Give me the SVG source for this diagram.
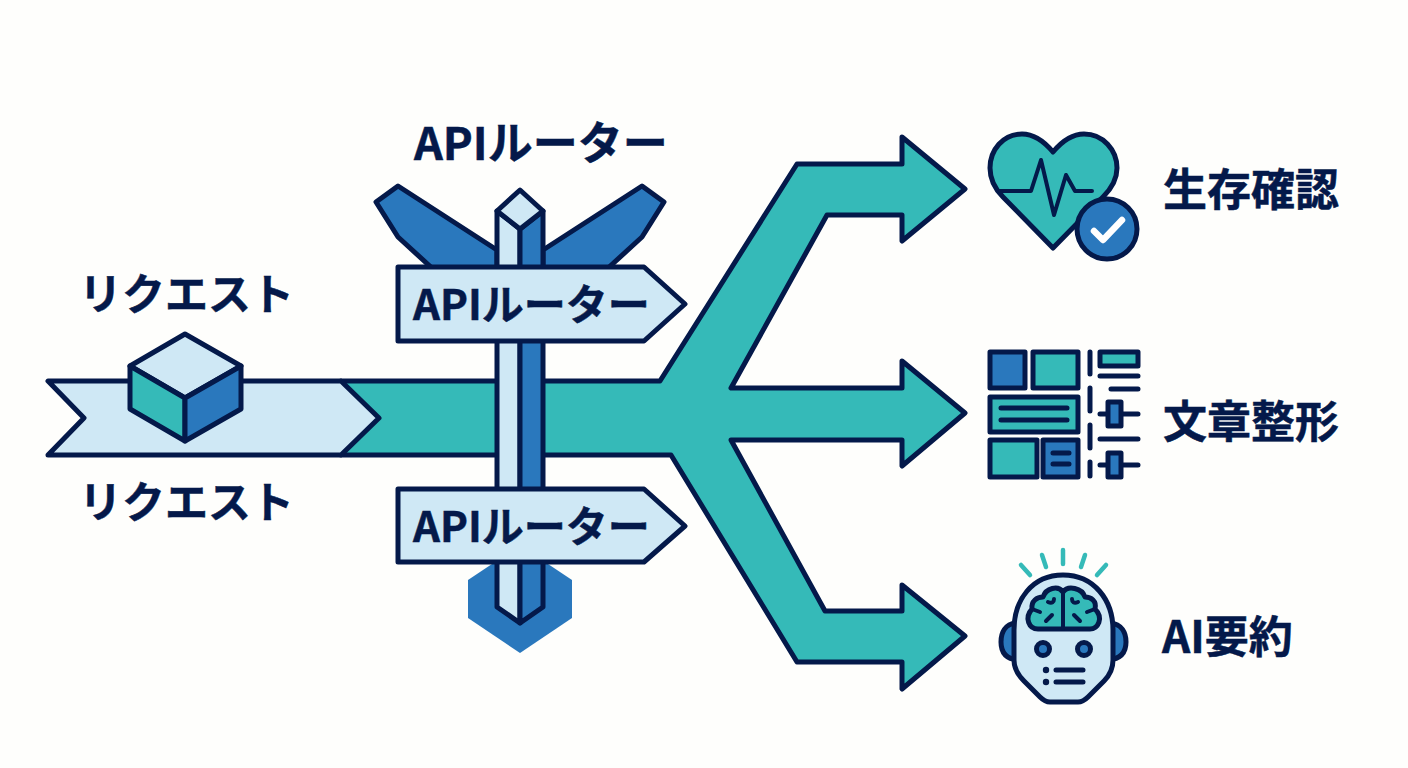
<svg xmlns="http://www.w3.org/2000/svg" width="1408" height="768" viewBox="0 0 1408 768">
<style>
.s{stroke:#04194a;stroke-width:5;stroke-linejoin:round;stroke-linecap:round}
.t{font-family:"Noto Sans CJK JP","Noto Sans",sans-serif;font-weight:700;fill:#04194a;stroke:#04194a;stroke-width:.5}
.teal{fill:#35bab8}.blue{fill:#2a78bd}.light{fill:#cfe8f5}.none{fill:none}
.w{stroke-width:4}
</style>
<rect width="1408" height="768" fill="#fefefc"/>
<g id="connectors">
<polygon class="s teal" points="341,381 660,381 797,164 902,164 902,137 965,189 902,241 902,215 827,215 731,388 902,388 902,361 965,413 902,466 902,440 731,440 825,611 902,611 902,585 965,636 902,689 902,662 797,662 671,455 341,455"/>
</g>
<g id="request">
<polygon class="s light" points="48,381 341,381 379,418 341,455 48,455 84,418"/>
<polygon class="s light" points="185,334 241,366 185,398 130,366"/>
<polygon class="s teal" points="130,366 185,398 185,441 130,409"/>
<polygon class="s blue" points="241,366 185,398 185,441 241,409"/>
<text class="t" x="79" y="310" font-size="43">リクエスト</text>
<text class="t" x="79" y="518" font-size="43">リクエスト</text>
</g>
<g id="router">
<text class="t" x="414" y="160" font-size="45">APIルーター</text>
<polygon class="s blue" points="376,202 398,186 497,250 497,280 445,280 398,237"/>
<polygon class="s blue" points="664,202 642,186 543,250 543,280 595,280 642,237"/>
<polygon class="blue" points="468,580 495,562 545,562 572,580 572,618 520,653 468,618"/>
<polygon class="s light" points="497,211 520,229 520,623 497,607"/>
<polygon class="s blue" points="543,211 520,229 520,623 543,607"/>
<polygon class="s light" points="520,190 543,211 520,229 497,211"/>
<polygon class="s light" points="398,267 644,267 685,304 644,341 398,341"/>
<polygon class="s light" points="398,489 644,489 685,526 644,562 398,562"/>
<text class="t" x="413" y="320" font-size="42">APIルーター</text>
<text class="t" x="413" y="542" font-size="42">APIルーター</text>
</g>
<g id="health">
<path class="s teal" d="M1053,152C1043,140 1032,134 1022,134C1003,134 990,150 990,168C990,180 996,190 1003,197L1053,248L1103,197C1110,190 1117,180 1117,168C1117,150 1103,134 1084,134C1074,134 1063,140 1053,152Z"/>
<polyline class="s none w" points="1000,191 1031,191 1041,160 1054,215 1066,175 1075,191 1092,191"/>
<circle class="s blue" cx="1107" cy="229" r="30"/>
<polyline class="none" stroke="#fff" stroke-width="6.5" stroke-linecap="round" stroke-linejoin="round" points="1094,231 1103,240 1122,220"/>
<text class="t" x="1163" y="206" font-size="44">生存確認</text>
</g>
<g id="format">
<rect class="s blue" x="990" y="352" width="35" height="36"/>
<rect class="s teal" x="1033" y="352" width="45" height="36"/>
<rect class="s teal" x="990" y="397" width="88" height="35"/>
<rect class="s teal" x="990" y="440" width="47" height="37"/>
<rect class="s blue" x="1043" y="440" width="35" height="37"/>
<rect class="s teal" x="1100" y="352" width="38" height="14"/>
<path class="s none" d="M1001,408H1067M1001,420H1067M1053,453H1069M1053,464H1069M1090,352V374M1090,388V411M1090,425V448M1090,462V476M1100,376H1138M1111,389H1138M1100,414H1138M1100,439H1138M1100,465H1138"/>
<rect class="s blue" x="1108" y="402" width="13" height="24"/>
<rect class="s blue" x="1108" y="453" width="13" height="24"/>
<text class="t" x="1163" y="438" font-size="44">文章整形</text>
</g>
<g id="summary">
<path class="s blue" d="M1016,623C1005,624 1001,633 1001,642C1001,651 1005,659 1018,660Z"/>
<path class="s blue" d="M1110,623C1122,624 1126,633 1126,642C1126,651 1122,659 1108,660Z"/>
<path class="s light" d="M1063,575C1032,575 1014,600 1014,630V660C1014,668 1018,675 1024,681L1040,697C1043,700 1046,702 1050,702H1078C1082,702 1085,700 1088,697L1104,681C1110,675 1113,668 1113,660V630C1113,600 1094,575 1063,575Z"/>
<path class="s teal" d="M1063,629H1038C1029,629 1024,618 1032,609C1031,601 1037,597 1043,597C1046,588 1058,585 1063,592C1068,585 1082,588 1085,597C1091,597 1097,601 1095,609C1104,618 1098,629 1090,629Z"/>
<path class="s none w" d="M1063,592V629M1046,621L1052,615M1080,621L1074,615M1032,609L1040,612M1095,609L1087,612M1048,602C1052,604 1054,602 1054,599M1078,602C1074,604 1072,602 1072,599"/>
<circle class="s blue" cx="1043" cy="649" r="6.5"/>
<circle class="s blue" cx="1084" cy="649" r="6.5"/>
<path class="s none" d="M1056,670H1083M1056,682H1083"/>
<circle cx="1046" cy="670" r="3.2" fill="#04194a"/>
<circle cx="1046" cy="682" r="3.2" fill="#04194a"/>
<path fill="none" stroke="#35bab8" stroke-width="4.5" stroke-linecap="round" d="M1021,565L1030,575M1042,555L1046,567M1063,550V564M1085,555L1081,567M1106,565L1097,575"/>
<text class="t" x="1162" y="653" font-size="44">AI要約</text>
</g>
</svg>
